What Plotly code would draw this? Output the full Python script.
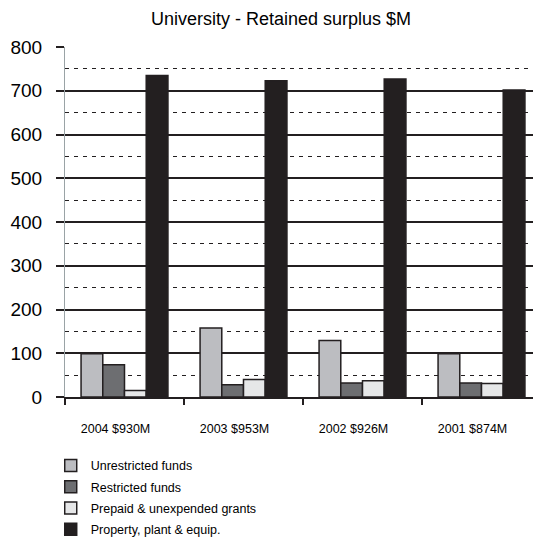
import plotly.graph_objects as go

categories = ["2004 $930M", "2003 $953M", "2002 $926M", "2001 $874M"]
unrestricted = [99, 158, 129, 99]
restricted = [74, 28, 32, 32]
prepaid = [15, 40, 37, 31]
property_ppe = [735, 723, 727, 702]

series = [
    ("Unrestricted funds", unrestricted, "#bcbdc1"),
    ("Restricted funds", restricted, "#6d6e71"),
    ("Prepaid & unexpended grants", prepaid, "#e6e7e8"),
    ("Property, plant & equip.", property_ppe, "#231f20"),
]

FONT = "Liberation Sans, Arial, sans-serif"
DARK = "#231f20"

fig = go.Figure()
for i, (name, vals, col) in enumerate(series):
    fig.add_trace(go.Bar(
        x=categories, y=vals, name=name, legendgroup=f"g{i}",
        marker=dict(color=col, line=dict(color=DARK, width=1.5)),
    ))

fig.update_layout(
    width=541, height=540,
    margin=dict(l=57, r=8, t=39, b=151, autoexpand=False),
    paper_bgcolor="white", plot_bgcolor="white",
    barmode="group", bargap=0.27, bargroupgap=0,
    title=dict(text="University - Retained surplus $M", x=0.5046, xanchor="center",
               y=0.992, yanchor="top", pad=dict(t=0),
               font=dict(family=FONT, size=18, color="black")),
    font=dict(family=FONT, color="black"),
    showlegend=True,
    legend=dict(x=-0.03, xanchor="left", y=-0.154, yanchor="top",
                orientation="v", font=dict(family=FONT, size=12.5, color="black"),
                tracegroupgap=2, itemwidth=30, bgcolor="rgba(0,0,0,0)"),
)

fig.update_xaxes(
    type="category", tickson="boundaries", ticks="outside", ticklen=6,
    tickcolor=DARK, tickwidth=1.5, showline=True, linecolor=DARK, linewidth=1.5,
    showgrid=False, tickfont=dict(family=FONT, size=12.5, color="black"),
    ticklabelstandoff=19, ticklabelshift=-9, automargin=False,
)

fig.update_yaxes(
    range=[0, 800], dtick=100, tick0=0, ticks="outside", ticklen=8,
    tickcolor=DARK, tickwidth=1.5,
    showline=True, linecolor="#9aa3a6", linewidth=1,
    showgrid=True, gridcolor=DARK, gridwidth=1.5,
    zeroline=False,
    tickfont=dict(family=FONT, size=19, color="black"),
    ticklabelstandoff=10, automargin=False,
    minor=dict(dtick=50, tick0=0, showgrid=True, gridcolor=DARK, gridwidth=1.3,
               griddash="4px,5px", ticks=""),
)

fig.write_html("out.html")
